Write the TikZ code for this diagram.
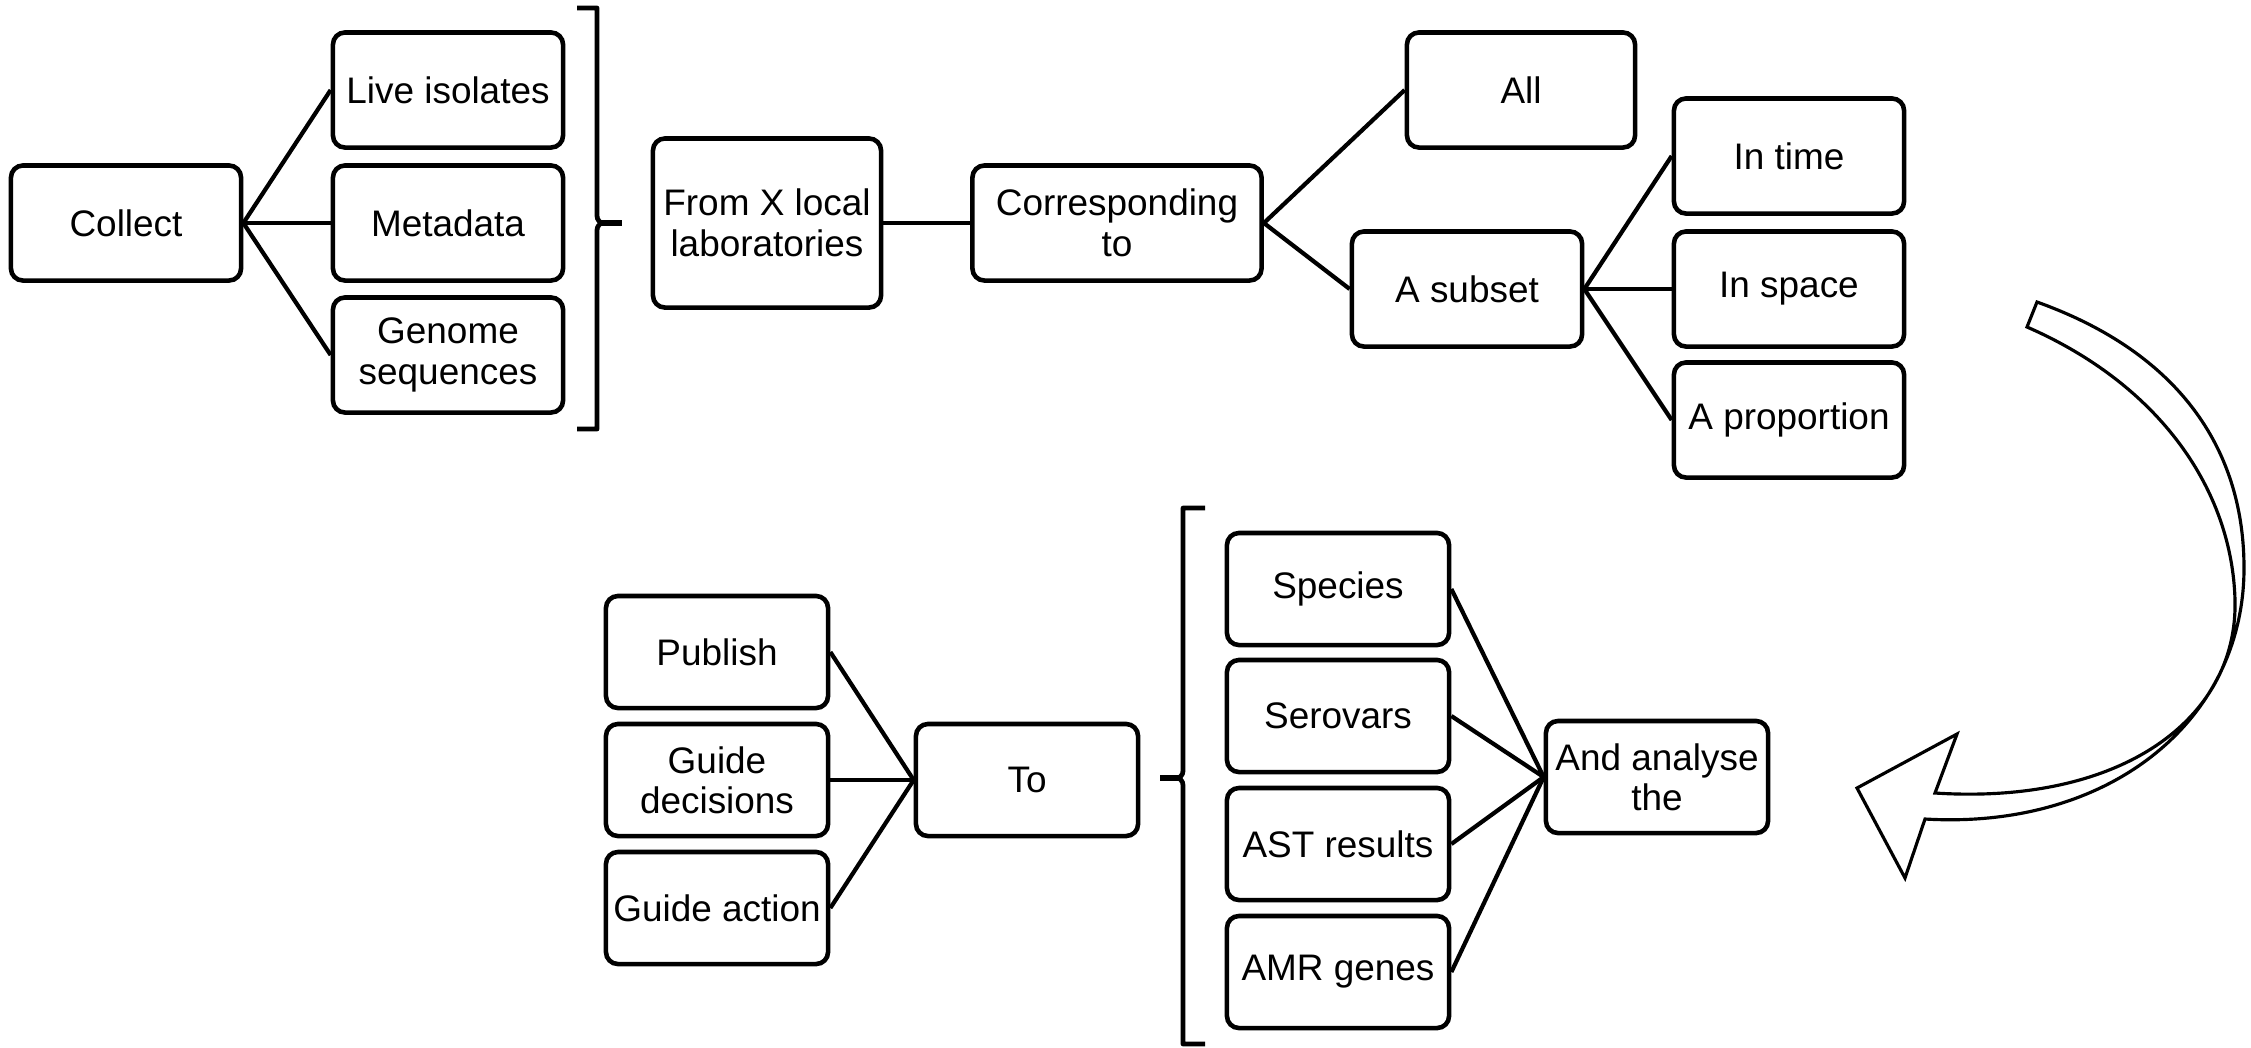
\documentclass[tikz,border=0pt]{standalone}
\usepackage{fontspec}
\setmainfont{Liberation Sans}
\begin{document}
\begin{tikzpicture}[x=0.01cm, y=-0.01cm,
  box/.style={draw, line width=1.3pt, rounded corners=0.12cm, minimum width=2.3cm, minimum height=1.15cm, align=center, inner sep=1pt, font=\fontsize{10.5}{11.5}\selectfont},
  lowbox/.style={box, minimum width=2.22cm, minimum height=1.12cm},
  link/.style={line width=1.2pt},
  brack/.style={line width=1.35pt, line join=round},
  nub/.style={line width=1.9pt}]
\useasboundingbox (0,0) rectangle (2251,1047);
\node[box] (collect) at (126,223) {Collect};
\node[box] (live) at (448,90) {Live isolates};
\node[box] (meta) at (448,223) {Metadata};
\node[box] (genome) at (448,355) {Genome\\sequences};
\draw[link] (collect.east) -- (live.west);
\draw[link] (collect.east) -- (meta.west);
\draw[link] (collect.east) -- (genome.west);
\draw[brack] (577,8) -- (597,8) -- (597,212) .. controls (597,219) .. (601,223)
  .. controls (597,227) .. (597,234) -- (597,429) -- (577,429);
\draw[nub] (600,223) -- (622,223);
\node[box, minimum width=2.28cm, minimum height=1.69cm] (labs) at (767,223) {From X local\\laboratories};
\node[box, minimum width=2.89cm] (corr) at (1117,223) {Corresponding\\to};
\draw[link] (labs.east) -- (corr.west);
\node[box, minimum width=2.28cm] (all) at (1521,90) {All};
\node[box] (subset) at (1467,289) {A subset};
\draw[link] (corr.east) -- (all.west);
\draw[link] (corr.east) -- (subset.west);
\node[box] (time) at (1789,156) {In time};
\node[box] (space) at (1789,289) {In space};
\node[box] (prop) at (1789,420) {A proportion};
\draw[link] (subset.east) -- (time.west);
\draw[link] (subset.east) -- (space.west);
\draw[link] (subset.east) -- (prop.west);
\draw[line width=0.9pt, fill=white] (2037,302)
  .. controls (2185,355) and (2244,455) .. (2244,568)
  .. controls (2244,720) and (2110,830) .. (1925,819)
  -- (1905,878) -- (1857,788) -- (1957,734) -- (1935,793)
  .. controls (2120,805) and (2238,720) .. (2235,600)
  .. controls (2232,490) and (2160,385) .. (2027,327) -- cycle;
\node[lowbox] (publish) at (717,652) {Publish};
\node[lowbox] (decide) at (717,780) {Guide\\decisions};
\node[lowbox] (action) at (717,908) {Guide action};
\node[lowbox] (to) at (1027,780) {To};
\draw[link] (publish.east) -- (to.west);
\draw[link] (decide.east) -- (to.west);
\draw[link] (action.east) -- (to.west);
\draw[brack] (1205,508) -- (1183,508) -- (1183,767) .. controls (1183,774) .. (1179,778)
  .. controls (1183,782) .. (1183,789) -- (1183,1044) -- (1205,1044);
\draw[nub] (1181,778) -- (1160,778);
\node[lowbox] (species) at (1338,589) {Species};
\node[lowbox] (serovars) at (1338,716) {Serovars};
\node[lowbox] (ast) at (1338,844) {AST results};
\node[lowbox] (amr) at (1338,972) {AMR genes};
\node[lowbox] (analyse) at (1657,777) {And analyse\\the};
\draw[link] (species.east) -- (analyse.west);
\draw[link] (serovars.east) -- (analyse.west);
\draw[link] (ast.east) -- (analyse.west);
\draw[link] (amr.east) -- (analyse.west);
\end{tikzpicture}
\end{document}
